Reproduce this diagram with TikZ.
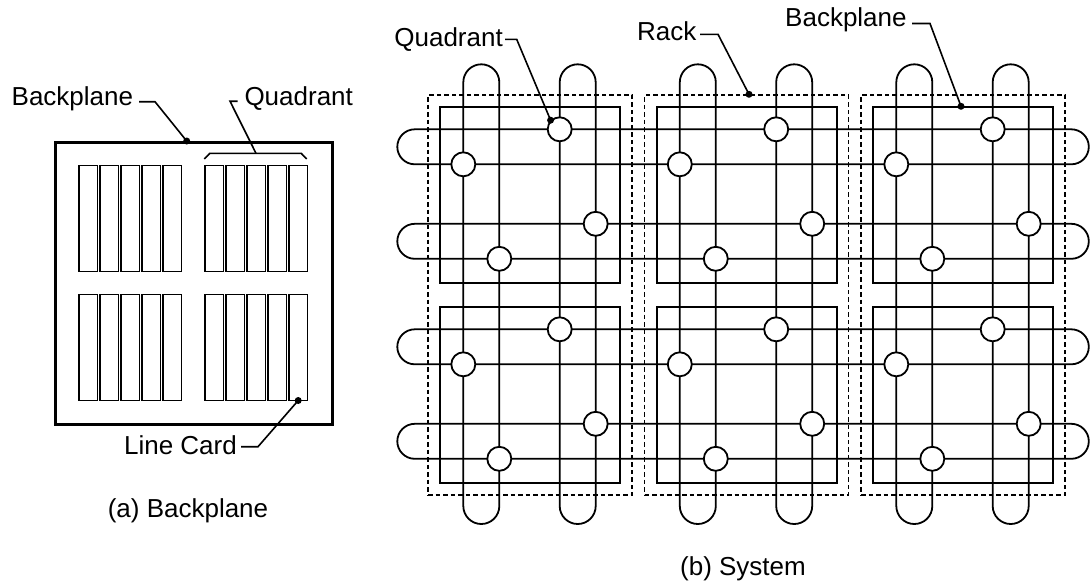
\documentclass[tikz,border=0pt]{standalone}
\usepackage{fontspec}
\setmainfont{Liberation Sans}
\begin{document}
\begin{tikzpicture}[x=1pt,y=-1pt,
  lbl/.style={font=\fontsize{26}{30}\selectfont, inner sep=0pt},
  wire/.style={line width=1.8pt},
  leader/.style={line width=1.6pt},
  card/.style={draw, line width=1.3pt, minimum width=18.4pt, minimum height=106pt, anchor=north west, inner sep=0pt},
  rackbox/.style={draw, dash pattern=on 4.5pt off 3pt, line width=1.6pt, anchor=north west, minimum width=204pt, minimum height=400pt, inner sep=0pt},
  quadbox/.style={draw, line width=1.8pt, anchor=north west, minimum width=180pt, minimum height=176pt, inner sep=0pt},
  sw/.style={circle, draw, fill=white, line width=1.8pt, minimum size=24pt, inner sep=0pt},
  pindot/.style={circle, fill=black, minimum size=7pt, inner sep=0pt}]
\useasboundingbox (0,0) rectangle (1090,582);

% ---------------- (a) Backplane ----------------
\node[draw, line width=3pt, anchor=north west, minimum width=277pt, minimum height=282pt, inner sep=0pt] (bpa) at (54,141) {};
\foreach \g in {0,1} {
  \foreach \k in {0,...,4} {
    \foreach \r/\t in {0/165,1/294} {
      \pgfmathsetmacro\cx{78.3+126*\g+21*\k}
      \node[card] (card-\g-\k-\r) at (\cx,\t) {};
    }
  }
}
% bracket over right top group
\coordinate (brA) at (204.3,159);
\coordinate (brB) at (209.8,153.3);
\coordinate (brC) at (301.2,153.3);
\coordinate (brD) at (306.7,159);
\draw[leader] (brA) -- (brB) -- (brC) -- (brD);

% labels of (a)
\node[lbl, anchor=base west] (lblBpA) at (11.5,105.7) {Backplane};
\coordinate (bpaL1) at (139,101.7);
\coordinate (bpaL2) at (155,101.7);
\node[pindot] (bpaDot) at (186.7,141) {};
\draw[leader] (bpaL1) -- (bpaL2) -- (bpaDot.center);

\node[lbl, anchor=base west] (lblQA) at (244.3,105.7) {Quadrant};
\coordinate (qaL1) at (237.5,101.2);
\coordinate (qaL2) at (230,101.2);
\coordinate (qaEnd) at (256,153.3);
\draw[leader] (qaL1) -- (qaL2) -- (qaEnd);

\node[lbl, anchor=base east] (lblLC) at (237,454.5) {Line Card};
\coordinate (lcL1) at (241,446.7);
\coordinate (lcL2) at (258,446.7);
\node[pindot] (lcDot) at (298.2,400.5) {};
\draw[leader] (lcL1) -- (lcL2) -- (lcDot.center);

\node[lbl, anchor=base] (capA) at (188,517) {(a) Backplane};

% ---------------- (b) System ----------------
\foreach \i in {0,1,2} {
  \pgfmathsetmacro\ox{439.3+216.5*\i}
  \node[quadbox] (quad-\i-0) at (\ox,106.3) {};
  \node[quadbox] (quad-\i-1) at (\ox,306.3) {};
  \node[rackbox] (rack-\i) at (\ox-12,94.3) {};
}
% vertical loops
\foreach \i in {0,1,2} {
  \pgfmathsetmacro\ox{439.3+216.5*\i}
  \foreach \a in {24,120.4} {
    \draw[wire, rounded corners=18pt] (\ox+\a,64.3) rectangle (\ox+\a+36,524);
  }
}
% horizontal loops
\foreach \y in {129.3,223.8,329.3,423.8} {
  \draw[wire, rounded corners=17.5pt] (397.3,\y) rectangle (1088.8,\y+35);
}
% switches
\foreach \i in {0,1,2} {
  \pgfmathsetmacro\ox{439.3+216.5*\i}
  \foreach \q/\qt in {0/106.3,1/306.3} {
    \node[sw] (s-\i-\q-1) at (\ox+120.4,\qt+23) {};
    \node[sw] (s-\i-\q-2) at (\ox+24,\qt+58) {};
    \node[sw] (s-\i-\q-3) at (\ox+156.4,\qt+117.5) {};
    \node[sw] (s-\i-\q-4) at (\ox+60,\qt+152.5) {};
  }
}

% labels of (b)
\node[lbl, anchor=base east] (lblQB) at (503,46) {Quadrant};
\coordinate (qbL1) at (505,39.3);
\coordinate (qbL2) at (516.7,39.3);
\node[pindot] (qbDot) at (s-0-0-1.north west) {};
\draw[leader] (qbL1) -- (qbL2) -- (qbDot.center);

\node[lbl, anchor=base west] (lblRack) at (637,40) {Rack};
\coordinate (rkL1) at (700,34.3);
\coordinate (rkL2) at (718,34.3);
\node[pindot] (rkDot) at (749,94.3) {};
\draw[leader] (rkL1) -- (rkL2) -- (rkDot.center);

\node[lbl, anchor=base west] (lblBpB) at (785,26) {Backplane};
\coordinate (bbL1) at (912,23.5);
\coordinate (bbL2) at (930,23.5);
\node[pindot] (bbDot) at (961,106.3) {};
\draw[leader] (bbL1) -- (bbL2) -- (bbDot.center);

\node[lbl, anchor=base] (capB) at (743,575) {(b) System};
\end{tikzpicture}
\end{document}
